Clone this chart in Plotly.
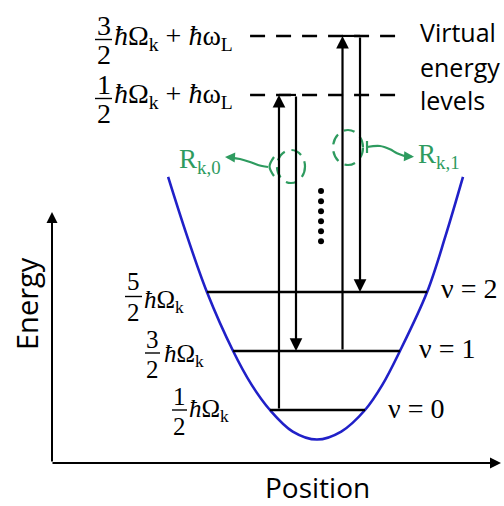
import plotly.graph_objects as go

# ---------------- data (physical units: position x, energy in units of hbar*Omega_k) -------------
nu = [0, 1, 2]
E_nu = [0.5, 1.5, 2.5]
nu_left = [-0.97, -1.73, -2.27]
nu_right = [0.99, 1.71, 2.27]
omega_L = 5.34
E_virtual = [0.5 + omega_L, 1.5 + omega_L]
virt_span = [-1.38, 1.67]
curve_x = [-3.07, -2.68, -2.27, -1.73, -1.35, -0.97, -0.5, 0.0, 0.5, 0.99, 1.35, 1.71, 2.27, 2.65, 3.01]
curve_E = [4.45, 3.45, 2.5, 1.5, 0.93, 0.5, 0.135, 0.0, 0.135, 0.5, 0.93, 1.5, 2.5, 3.45, 4.45]
trans_x = [-0.784, -0.433, 0.526, 0.887]
trans_E_from = [0.5, E_virtual[0], 1.5, E_virtual[1]]
trans_E_to = [E_virtual[0], 1.5, E_virtual[1], 2.5]
dots_x = [0.083] * 6
dots_E = [4.21, 4.04, 3.87, 3.70, 3.53, 3.36]

# ---------------- layout helpers (pixel -> data) ----------------
PX0, SX, PY0, SY = 317.0, 48.5, 439.5, 59.0
def X(px): return (px - PX0) / SX
def Y(py): return (PY0 - py) / SY

BLUE = "#2020c8"
GREEN = "#2e9b5f"
SERIF = "Liberation Serif"
SANS = "Open Sans"

fig = go.Figure()

# potential curve
fig.add_trace(go.Scatter(x=curve_x, y=curve_E, mode="lines",
                         line=dict(color=BLUE, width=2.6, shape="spline", smoothing=1.0),
                         hoverinfo="skip"))
# vibrational levels
for i in range(len(nu)):
    fig.add_trace(go.Scatter(x=[nu_left[i], nu_right[i]], y=[E_nu[i], E_nu[i]], mode="lines",
                             line=dict(color="black", width=2.3), hoverinfo="skip"))
# virtual levels (dashed)
for e in E_virtual:
    fig.add_trace(go.Scatter(x=virt_span, y=[e, e], mode="lines",
                             line=dict(color="black", width=2.4, dash="15px,11px"), hoverinfo="skip"))
# solid connectors at virtual levels
fig.add_trace(go.Scatter(x=[trans_x[0], trans_x[1]], y=[E_virtual[0], E_virtual[0]], mode="lines",
                         line=dict(color="black", width=2.2), hoverinfo="skip"))
fig.add_trace(go.Scatter(x=[trans_x[2], trans_x[3]], y=[E_virtual[1], E_virtual[1]], mode="lines",
                         line=dict(color="black", width=2.2), hoverinfo="skip"))
# dots
fig.add_trace(go.Scatter(x=dots_x, y=dots_E, mode="markers",
                         marker=dict(color="black", size=6), hoverinfo="skip"))

# transition arrows
for xv, e0, e1 in zip(trans_x, trans_E_from, trans_E_to):
    fig.add_annotation(x=xv, y=e1, ax=xv, ay=e0, xref="x", yref="y", axref="x", ayref="y",
                       text="", showarrow=True, arrowhead=2, arrowsize=1.15, arrowwidth=2.2,
                       arrowcolor="black", standoff=0)

# axes arrows
fig.add_annotation(x=X(52), y=Y(212), ax=X(52), ay=Y(463), xref="x", yref="y", axref="x", ayref="y",
                   text="", showarrow=True, arrowhead=2, arrowsize=1.1, arrowwidth=2,
                   arrowcolor="black", standoff=0)
fig.add_annotation(x=X(501), y=Y(463), ax=X(51), ay=Y(463), xref="x", yref="y", axref="x", ayref="y",
                   text="", showarrow=True, arrowhead=2, arrowsize=1.1, arrowwidth=2,
                   arrowcolor="black", standoff=0)

# green dashed ellipses
for (x0, x1, y0, y1) in [(277, 305, 150, 183), (333, 363, 130, 165)]:
    fig.add_shape(type="circle", xref="x", yref="y", x0=X(x0), x1=X(x1), y0=Y(y1), y1=Y(y0),
                  line=dict(color=GREEN, width=2.2, dash="11px,7px"))

# green brackets and squiggles
def gline(pts, width=2.2):
    fig.add_trace(go.Scatter(x=[X(p[0]) for p in pts], y=[Y(p[1]) for p in pts], mode="lines",
                             line=dict(color=GREEN, width=width, shape="spline"), hoverinfo="skip"))
gline([(274, 157), (269.5, 166.5), (274, 176)])
gline([(268, 167), (258, 165), (250, 162), (240, 159), (230, 157.3)])
gline([(367, 141), (367, 153)])
gline([(367, 147), (380, 146), (390, 149.3), (397, 153.3), (405, 156.2)])
fig.add_annotation(x=X(225), y=Y(157), ax=X(232), ay=Y(157.4), xref="x", yref="y", axref="x", ayref="y",
                   text="", showarrow=True, arrowhead=2, arrowsize=1, arrowwidth=2,
                   arrowcolor=GREEN, standoff=0)
fig.add_annotation(x=X(414), y=Y(156.7), ax=X(405), ay=Y(156.2), xref="x", yref="y", axref="x", ayref="y",
                   text="", showarrow=True, arrowhead=2, arrowsize=1, arrowwidth=2,
                   arrowcolor=GREEN, standoff=0)

# ---------------- text ----------------
def txt(s, px, py, fs, family=SERIF, color="black", xanchor="left", angle=0):
    fig.add_annotation(x=X(px), y=Y(py), xref="x", yref="y", text=s, showarrow=False,
                       font=dict(size=fs, family=family, color=color), xanchor=xanchor,
                       yanchor="middle", textangle=angle, borderpad=0)

def frac(num, den, cx, ny, dy, bx0, bx1, by, fs):
    txt(num, cx, ny, fs, xanchor="center")
    txt(den, cx, dy, fs, xanchor="center")
    fig.add_shape(type="line", xref="x", yref="y", x0=X(bx0), x1=X(bx1), y0=Y(by), y1=Y(by),
                  line=dict(color="black", width=1.4))

HO = "<i>ħ</i>Ω<sub>k</sub>"
HOL = "<i>ħ</i>Ω<sub>k</sub> + <i>ħ</i>ω<sub>L</sub>"

frac("3", "2", 103.5, 25.5, 54.5, 95, 112, 39.5, 28)
txt(HOL, 113, 37, 28)
frac("1", "2", 103.5, 84.5, 113, 95, 112, 98.5, 28)
txt(HOL, 113, 95.6, 28)

frac("5", "2", 133, 281.5, 312, 125, 142, 296.5, 25)
txt(HO, 143, 301.6, 25)
frac("3", "2", 152.5, 339, 369, 145, 160, 353, 25)
txt(HO, 163, 355.6, 25)
frac("1", "2", 179.5, 396.5, 426, 172, 187, 410, 25)
txt(HO, 188, 410.6, 25)

txt("ν = 2", 440, 288.5, 28)
txt("ν = 1", 418, 348.5, 28)
txt("ν = 0", 387, 408.5, 28)

txt("Virtual", 419, 32.3, 25, family=SANS)
txt("energy", 419, 67.3, 25, family=SANS)
txt("levels", 419, 100.3, 25, family=SANS)

txt("R<sub>k,0</sub>", 178, 160.8, 27, color=GREEN)
txt("R<sub>k,1</sub>", 417, 155.8, 27, color=GREEN)

txt("Energy", 26, 304, 29, family=SANS, xanchor="center", angle=-90)
txt("Position", 317.5, 486.5, 28, family=SANS, xanchor="center")

fig.update_layout(width=504, height=506, margin=dict(l=0, r=0, t=0, b=0),
                  paper_bgcolor="white", plot_bgcolor="white", showlegend=False,
                  xaxis=dict(visible=False, range=[X(0), X(504)], fixedrange=True),
                  yaxis=dict(visible=False, range=[Y(506), Y(0)], fixedrange=True))

fig.write_html("out.html")
